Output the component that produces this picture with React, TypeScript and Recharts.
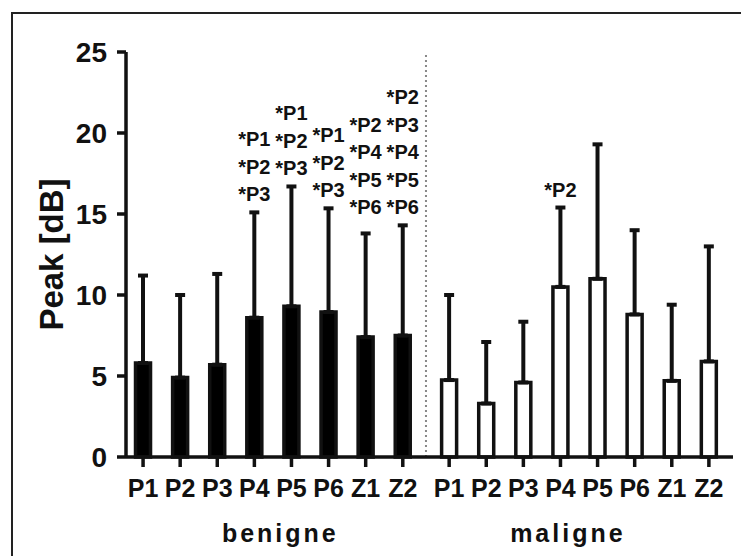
import React from "react";
import { ComposedChart, Bar, XAxis, YAxis, Cell, ErrorBar, LabelList, ReferenceLine, Label } from "recharts";

const categories = ["P1", "P2", "P3", "P4", "P5", "P6", "Z1", "Z2"];
const groups = ["benigne", "maligne"];

const benigneMean = [5.8, 4.9, 5.7, 8.6, 9.3, 8.95, 7.4, 7.5];
const benigneSd = [5.4, 5.1, 5.6, 6.5, 7.4, 6.4, 6.4, 6.8];
const maligneMean = [4.75, 3.3, 4.6, 10.5, 11.0, 8.8, 4.7, 5.9];
const maligneSd = [5.25, 3.8, 3.75, 4.9, 8.3, 5.2, 4.7, 7.1];

// significance marks printed above each bar
const benigneSig = [
  [], [], [],
  ["*P1", "*P2", "*P3"],
  ["*P1", "*P2", "*P3"],
  ["*P1", "*P2", "*P3"],
  ["*P2", "*P4", "*P5", "*P6"],
  ["*P2", "*P3", "*P4", "*P5", "*P6"],
];
const maligneSig = [[], [], [], ["*P2"], [], [], [], []];

const yTicks = [0, 5, 10, 15, 20, 25];

const FONT = "'Liberation Sans', Arial, sans-serif";
const INK = "#111";
const GAP = 1.25; // space between the two groups, in bar slots

const n = categories.length;
const data = [
  ...benigneMean.map((m, i) => ({ pos: i, cat: categories[i], mean: m, err: [0, benigneSd[i]], sig: benigneSig[i], grp: 0 })),
  ...maligneMean.map((m, i) => ({ pos: n - 1 + GAP + i, cat: categories[i], mean: m, err: [0, maligneSd[i]], sig: maligneSig[i], grp: 1 })),
];
const positions = data.map(d => d.pos);
const sepX = (n - 1 + n - 1 + GAP) / 2;
const groupTicks = [3.7, n - 1 + GAP + 3.2];
const xDomain = [-0.46, 15.9];

const SigLabel = (props: any) => {
  const vb = props.viewBox ?? props;
  const i = props.index;
  const d = data[i];
  if (!d || !d.sig.length) return null;
  const top = Math.min(vb.y, vb.y + vb.height);
  const h = Math.abs(vb.height);
  const unit = h / d.mean;
  const zero = top + h;
  let errTop = zero - (d.mean + d.err[1]) * unit;
  // line up with a slightly taller annotated neighbour
  const next = data[i + 1];
  if (next && next.grp === d.grp && next.sig.length) {
    const nextTop = zero - (next.mean + next.err[1]) * unit;
    if (nextTop < errTop && errTop - nextTop < 15) errTop = nextTop;
  }
  const cx = vb.x + vb.width / 2;
  const k = d.sig.length;
  return (
    <g>
      {d.sig.map((s: string, j: number) => (
        <text key={j} x={cx} y={errTop - 11 - (k - 1 - j) * 27.5} textAnchor="middle"
          fontSize={20} fontWeight={700} fill={INK} fontFamily={FONT}>{s}</text>
      ))}
    </g>
  );
};

export default function App() {
  return (
    <div style={{ position: "absolute", left: 0, top: 0, width: 741, height: 556, overflow: "hidden", background: "#fff" }}>
      <div style={{ position: "absolute", left: 11, top: 12, width: 780, height: 600, border: "2px solid #222" }} />
      <ComposedChart width={741} height={556} data={data} margin={{ top: 52, right: 8, bottom: 0, left: 0 }}>
        <YAxis
          domain={[0, 25]}
          ticks={yTicks}
          width={126}
          interval={0}
          tickSize={9}
          tickMargin={10}
          axisLine={{ stroke: INK, strokeWidth: 3.5 }}
          tickLine={{ stroke: INK, strokeWidth: 3.5 }}
          tick={{ fontSize: 28, fontWeight: 700, fill: INK, fontFamily: FONT }}
        >
          <Label
            content={({ viewBox }: any) => {
              const cy = viewBox.y + viewBox.height / 2;
              return (
                <text x={63} y={cy} transform={`rotate(-90 63 ${cy})`} textAnchor="middle"
                  fontSize={33} fontWeight={700} fill={INK} fontFamily={FONT}>Peak [dB]</text>
              );
            }}
          />
        </YAxis>
        <XAxis
          xAxisId={0}
          type="number"
          dataKey="pos"
          domain={xDomain}
          allowDataOverflow
          ticks={positions}
          interval={0}
          height={50}
          tickSize={10}
          tickMargin={12}
          tickFormatter={(v: number) => data[positions.indexOf(v)]?.cat ?? ""}
          axisLine={{ stroke: INK, strokeWidth: 3.5 }}
          tickLine={{ stroke: INK, strokeWidth: 3.5 }}
          tick={{ fontSize: 25, fontWeight: 700, fill: INK, fontFamily: FONT }}
        />
        <XAxis
          xAxisId="grp"
          type="number"
          dataKey="pos"
          domain={xDomain}
          allowDataOverflow
          ticks={groupTicks}
          interval={0}
          height={49}
          tickSize={0}
          tickMargin={17}
          axisLine={false}
          tickLine={false}
          tickFormatter={(v: number) => groups[groupTicks.indexOf(v)] ?? ""}
          tick={{ fontSize: 25, fontWeight: 700, fill: INK, fontFamily: FONT, letterSpacing: 3 }}
        />
        <ReferenceLine x={sepX} stroke="#888" strokeWidth={2} strokeDasharray="2 3" />
        <Bar dataKey="mean" barSize={15} stroke={INK} strokeWidth={3.5} isAnimationActive={false}>
          {data.map((d, i) => (
            <Cell key={i} fill={d.grp === 0 ? "#000" : "#fff"} />
          ))}
          <ErrorBar dataKey="err" direction="y" width={5} stroke={INK} strokeWidth={4} />
          <LabelList dataKey="cat" content={SigLabel} />
        </Bar>
      </ComposedChart>
    </div>
  );
}
